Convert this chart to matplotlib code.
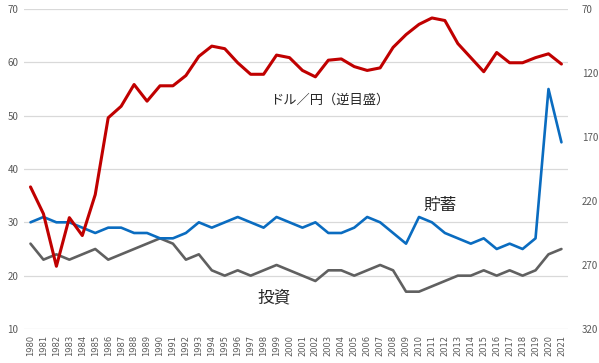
import matplotlib
matplotlib.use('Agg')
from matplotlib import pyplot as plt
import numpy as np

plt.rcParams['font.family'] = ['Noto Sans CJK JP', 'DejaVu Sans']

years = list(range(1980, 2022))

# 貯蓄 (left axis)
savings = [30, 31, 30, 30, 29, 28, 29, 29, 28, 28,
           27, 27, 28, 30, 29, 30, 31, 30, 29, 31,
           30, 29, 30, 28, 28, 29, 31, 30, 28, 26,
           31, 30, 28, 27, 26, 27, 25, 26, 25, 27,
           55, 45]

# 投資 (left axis)
investment = [26, 23, 24, 23, 24, 25, 23, 24, 25, 26,
              27, 26, 23, 24, 21, 20, 21, 20, 21, 22,
              21, 20, 19, 21, 21, 20, 21, 22, 21, 17,
              17, 18, 19, 20, 20, 21, 20, 21, 20, 21,
              24, 25]

# ドル／円 (right axis, inverted)
usdjpy = [209, 230, 271, 233, 247, 215, 155, 146, 129, 142,
          130, 130, 122, 107, 99, 101, 112, 121, 121, 106,
          108, 118, 123, 110, 109, 115, 118, 116, 100, 90,
          82, 77, 79, 97, 108, 119, 104, 112, 112, 108,
          105, 113]

left_ticks = [10, 20, 30, 40, 50, 60, 70]
right_ticks = [70, 120, 170, 220, 270, 320]

x = np.arange(len(years))
tick_color = '#595959'

fig = plt.figure(figsize=(5.99, 3.63), dpi=100)
ax = fig.add_axes([0.0401, 0.0937, 0.908, 0.8815])

ax.plot(x, investment, color='#606060', lw=1.9, solid_capstyle='round')
ax.plot(x, savings, color='#0a6cc0', lw=1.9, solid_capstyle='round')

ax.set_xlim(-0.5, len(years) - 0.5)
ax.set_ylim(10, 70)
ax.set_yticks(left_ticks)
ax.grid(axis='y', color='#d9d9d9', lw=0.9)
ax.set_axisbelow(True)
ax.set_xticks(x)
ax.set_xticklabels([str(y) for y in years], rotation=90, fontsize=6,
                   color=tick_color, family='DejaVu Sans')
ax.tick_params(axis='both', length=0)
ax.tick_params(axis='y', labelsize=7, labelcolor=tick_color, pad=4)
ax.tick_params(axis='x', pad=4)
for s in ax.spines.values():
    s.set_visible(False)

ax2 = ax.twinx()
ax2.plot(x, usdjpy, color='#c00000', lw=2.2, solid_capstyle='round')
ax2.set_ylim(320, 70)
ax2.set_yticks(right_ticks)
ax2.tick_params(axis='y', length=0, labelsize=7, labelcolor=tick_color, pad=10)
for s in ax2.spines.values():
    s.set_visible(False)

ax.text(23.1, 52.9, 'ドル／円（逆目盛）', fontsize=9.5, color='#262626',
        ha='center', va='center')
ax.text(31.6, 33.2, '貯蓄', fontsize=12, color='#262626',
        ha='center', va='center')
ax.text(18.8, 15.8, '投資', fontsize=12, color='#262626',
        ha='center', va='center')

fig.savefig('out.png', dpi=100)
